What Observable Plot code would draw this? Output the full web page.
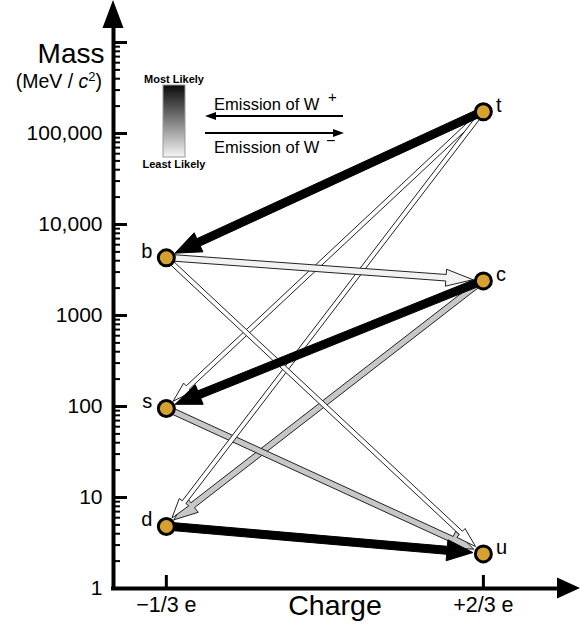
<!DOCTYPE html>
<html><head><meta charset="utf-8">
<script src="https://cdn.jsdelivr.net/npm/d3@7"></script>
<script src="https://cdn.jsdelivr.net/npm/@observablehq/plot@0.6"></script>
<style>body{margin:0;background:#fff}</style>
</head><body><div id="chart"></div>
<script>
// Quarks: charge (e) and mass (MeV/c^2)
const quarks  = ["t", "b", "c", "s", "d", "u"];
const charges = [2/3, -1/3, 2/3, -1/3, -1/3, 2/3];
const masses  = [173000, 4300, 2400, 95, 4.8, 2.4];

// Weak transitions (W emission) and their likelihood (0 = least, 1 = most)
const fromQuark  = ["c", "s", "t", "t", "b", "b", "t", "c", "d"];
const toQuark    = ["d", "u", "s", "d", "u", "c", "b", "s", "u"];
const likelihood = [0.22, 0.22, 0, 0, 0, 0.05, 1, 1, 1];

// Axis ticks
const majorTicks  = [1, 10, 100, 1000, 10000, 100000, 1000000];
const majorLabels = ["1", "10", "100", "1000", "10,000", "100,000"];
const minorSteps  = [2, 3, 4, 5, 6, 7, 8, 9];
const chargeTicks  = [-1/3, 2/3];
const chargeLabels = ["−1/3 e", "+2/3 e"];

const quarkTable = quarks.map((q, i) => ({q, charge: charges[i], mass: masses[i]}));
const minorTicks = majorTicks.slice(0, 6).flatMap(d => minorSteps.map(k => k * d));
const FONT = "'Liberation Sans', Arial, sans-serif";

const X0 = -0.5, X1 = 0.973, YTOP = 2.894e6;
const pxPerUnit = 467 / (X1 - X0);

function arrowStyle(l) {
  if (l >= 0.9) return {shaft: 8, head: 21, len: 26, fill: "#000", stroke: "#000"};
  if (l >= 0.15) return {shaft: 6, head: 18, len: 24, fill: d3.interpolateRgb("#fff", "#000")(l), stroke: "#222"};
  if (l > 0) return {shaft: 6.5, head: 17, len: 27, fill: "#f2f2f2", stroke: "#222"};
  return {shaft: 4.5, head: 12, len: 20, fill: "#fff", stroke: "#222"};
}

function customLayer(index, scales, values, dimensions) {
  const X = scales.x, Y = scales.y;
  const {width} = dimensions;
  const g = d3.create("svg:g").attr("font-family", FONT).attr("text-anchor", "start");
  const pos = q => { const i = quarks.indexOf(q); return [X(charges[i]), Y(masses[i])]; };

  // transition arrows
  fromQuark.forEach((f, i) => {
    const st = arrowStyle(likelihood[i]);
    const [x0, y0] = pos(f), [x1, y1] = pos(toQuark[i]);
    const dx = x1 - x0, dy = y1 - y0, L = Math.hypot(dx, dy);
    const ux = dx / L, uy = dy / L, nx = -uy, ny = ux;
    const tx = x1 - ux * 10, ty = y1 - uy * 10;
    const bx = tx - ux * st.len, by = ty - uy * st.len;
    const w = st.shaft / 2, h = st.head / 2;
    const pts = [[x0 + nx*w, y0 + ny*w], [bx + nx*w, by + ny*w], [bx + nx*h, by + ny*h], [tx, ty],
                 [bx - nx*h, by - ny*h], [bx - nx*w, by - ny*w], [x0 - nx*w, y0 - ny*w]];
    g.append("path").attr("d", "M" + pts.map(p => p.join(",")).join("L") + "Z")
      .attr("fill", st.fill).attr("stroke", st.stroke).attr("stroke-width", 1);
  });

  // axis arrowheads
  const ax = X(X0), ay = Y(1);
  g.append("path").attr("d", `M${ax},0L${ax + 10.5},28L${ax - 10.5},28Z`).attr("fill", "#000");
  g.append("path").attr("d", `M${width},${ay}L${width - 23},${ay - 10.5}L${width - 23},${ay + 10.5}Z`).attr("fill", "#000");

  // y-axis unit
  const u = g.append("text").attr("x", 102).attr("y", 88).attr("text-anchor", "end").attr("font-size", 19.5);
  u.append("tspan").text("(MeV / ");
  u.append("tspan").attr("font-style", "italic").text("c");
  u.append("tspan").attr("font-size", 13).attr("dy", -7).text("2");
  u.append("tspan").attr("dy", 7).text(")");

  // likelihood legend
  const grad = g.append("defs").append("linearGradient").attr("id", "likelyGrad")
    .attr("x1", 0).attr("y1", 0).attr("x2", 0).attr("y2", 1);
  grad.append("stop").attr("offset", 0).attr("stop-color", "#0a0a0a");
  grad.append("stop").attr("offset", 1).attr("stop-color", "#f5f5f5");
  g.append("rect").attr("x", 163).attr("y", 85).attr("width", 22).attr("height", 72)
    .attr("fill", "url(#likelyGrad)").attr("stroke", "#999").attr("stroke-width", 1);
  g.append("text").attr("x", 174).attr("y", 83).attr("text-anchor", "middle")
    .attr("font-size", 11).attr("font-weight", "bold").text("Most Likely");
  g.append("text").attr("x", 174).attr("y", 168).attr("text-anchor", "middle")
    .attr("font-size", 11).attr("font-weight", "bold").text("Least Likely");

  // emission legend
  g.append("line").attr("x1", 343).attr("x2", 213).attr("y1", 116).attr("y2", 116).attr("stroke", "#000").attr("stroke-width", 2.2);
  g.append("path").attr("d", "M205,116L216,112L216,120Z").attr("fill", "#000");
  g.append("line").attr("x1", 205).attr("x2", 335).attr("y1", 133).attr("y2", 133).attr("stroke", "#000").attr("stroke-width", 2.2);
  g.append("path").attr("d", "M344,133L333,129L333,137Z").attr("fill", "#000");
  const e1 = g.append("text").attr("x", 214).attr("y", 110).attr("font-size", 16.5);
  e1.append("tspan").text("Emission of W");
  e1.append("tspan").attr("x", 328).attr("y", 102).attr("font-size", 15).text("+");
  const e2 = g.append("text").attr("x", 214).attr("y", 153).attr("font-size", 16.5);
  e2.append("tspan").text("Emission of W");
  e2.append("tspan").attr("x", 326).attr("y", 146).attr("font-size", 16).text("−");
  return g.node();
}

const chart = Plot.plot({
  width: 580, height: 628,
  marginLeft: 113, marginRight: 0, marginTop: 0, marginBottom: 40,
  x: {domain: [X0, X1], axis: null},
  y: {type: "log", domain: [1, YTOP], axis: null},
  style: {fontFamily: FONT, background: "#fff", color: "#000", overflow: "visible"},
  marks: [
    Plot.ruleY(minorTicks, {y: d => d, x1: X0, x2: X0 + 7 / pxPerUnit, strokeWidth: 2}),
    Plot.ruleY(majorTicks, {y: d => d, x1: X0, x2: X0 + 14 / pxPerUnit, strokeWidth: 3}),
    Plot.ruleX([X0], {y1: 0.951, y2: 2e6, strokeWidth: 4}),
    Plot.ruleY([1], {x1: X0 - 2 / pxPerUnit, x2: X1 - 20 / pxPerUnit, strokeWidth: 4}),
    Plot.ruleX(chargeTicks, {x: d => d, y1: 1, y2: 1.39, strokeWidth: 3}),
    Plot.text(majorTicks.slice(0, 6), {x: X0, y: d => d, text: (d, i) => majorLabels[i], dx: -11, textAnchor: "end", fontSize: 21}),
    Plot.text(chargeTicks, {x: d => d, y: 1, text: (d, i) => chargeLabels[i], dy: 17, fontSize: 21.5}),
    Plot.text(["Charge"], {frameAnchor: "bottom", lineAnchor: "middle", text: d => d, dx: -12, dy: 17, fontSize: 28.5}),
    Plot.text(["Mass"], {frameAnchor: "top-left", lineAnchor: "middle", text: d => d, dx: -9, dy: 54, textAnchor: "end", fontSize: 28}),
    customLayer,
    Plot.dot(quarkTable, {x: "charge", y: "mass", r: 8, fill: "#d5a12f", stroke: "#000", strokeWidth: 3}),
    Plot.text(quarkTable.filter(d => d.charge > 0), {x: "charge", y: "mass", text: "q", dx: 12.5, dy: -6.5, textAnchor: "start", fontSize: 20}),
    Plot.text(quarkTable.filter(d => d.charge < 0), {x: "charge", y: "mass", text: "q", dx: -14, dy: -6.5, textAnchor: "end", fontSize: 20})
  ]
});
document.getElementById("chart").appendChild(chart);
</script>
</body></html>
